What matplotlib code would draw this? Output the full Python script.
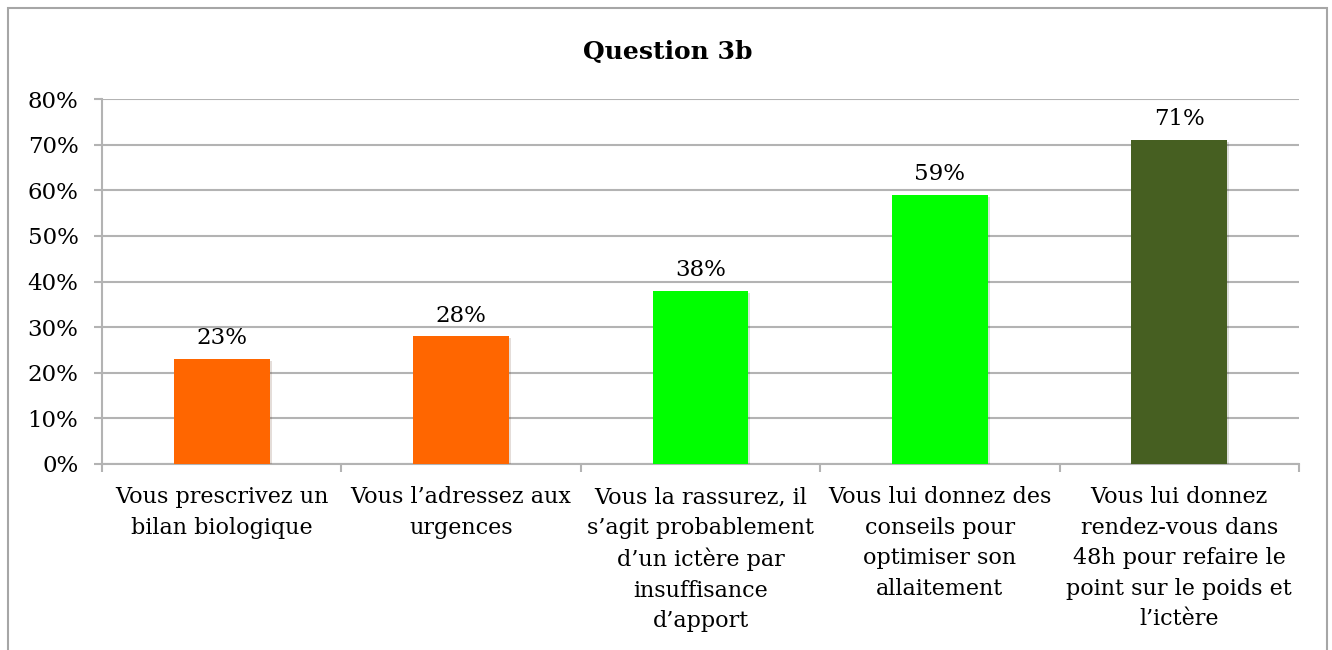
import matplotlib
matplotlib.use("Agg")
import matplotlib.pyplot as plt
import matplotlib.patheffects as pe
from matplotlib.patches import Rectangle
from matplotlib.ticker import FixedLocator, PercentFormatter

# ---------------------------------------------------------------------------
# Data
# ---------------------------------------------------------------------------
TITLE = "Question 3b"
categories = [
    "Vous prescrivez un\nbilan biologique",
    "Vous l\u2019adressez aux\nurgences",
    "Vous la rassurez, il\ns\u2019agit probablement\nd\u2019un ict\u00e8re par\ninsuffisance\nd\u2019apport",
    "Vous lui donnez des\nconseils pour\noptimiser son\nallaitement",
    "Vous lui donnez\nrendez-vous dans\n48h pour refaire le\npoint sur le poids et\nl\u2019ict\u00e8re",
]
values = [0.23, 0.28, 0.38, 0.59, 0.71]
bar_colors = ["#FF6600", "#FF6600", "#00FF00", "#00FF00", "#465F21"]
yticks = [0.0, 0.1, 0.2, 0.3, 0.4, 0.5, 0.6, 0.7, 0.8]

# ---------------------------------------------------------------------------
# Style
# ---------------------------------------------------------------------------
plt.rcParams["font.family"] = ["DejaVu Serif"]
GRID = "#B3B3B3"
FS_X = 16.0
FS_Y = 16.5
FS_VAL = 16.5

fig = plt.figure(figsize=(13.32, 6.5), dpi=100)
ax = fig.add_axes([102 / 1332, 1 - 464 / 650, (1299 - 102) / 1332, (464 - 99) / 650])

x = range(len(values))
bars = ax.bar(x, values, width=0.4, color=bar_colors, zorder=3)
for b in bars:
    b.set_path_effects([pe.SimplePatchShadow(offset=(1.5, -1.5), alpha=0.15), pe.Normal()])

for b, v in zip(bars, values):
    ax.annotate(f"{v * 100:.0f}%", (b.get_x() + b.get_width() / 2, v),
                xytext=(0, 7), textcoords="offset points",
                ha="center", va="bottom", fontsize=FS_VAL)

ax.set_xlim(-0.5, len(values) - 0.5)
ax.set_ylim(0, 0.8)
ax.yaxis.set_major_locator(FixedLocator(yticks))
ax.yaxis.set_major_formatter(PercentFormatter(1.0, decimals=0))
ax.grid(axis="y", color=GRID, linewidth=1.5, zorder=0)
ax.set_axisbelow(True)

ax.set_xticks(list(x))
ax.set_xticklabels(categories, fontsize=FS_X, linespacing=1.5, va="top")
ax.xaxis.set_minor_locator(FixedLocator([i - 0.5 for i in range(len(values) + 1)]))
ax.tick_params(axis="x", which="major", length=0, pad=16)
ax.tick_params(axis="x", which="minor", length=6, width=1.5, color=GRID)
ax.tick_params(axis="y", length=6, width=1.5, color=GRID, labelsize=FS_Y, pad=11)

for s in ["top", "right"]:
    ax.spines[s].set_visible(False)
for s in ["left", "bottom"]:
    ax.spines[s].set_color(GRID)
    ax.spines[s].set_linewidth(1.5)

fig.text(668 / 1332, 1 - 52 / 650, TITLE, ha="center", va="center",
         fontsize=18, fontweight="bold")

# outer chart border (bottom edge lies outside the image)
fig.patches.append(Rectangle((8 / 1332, -0.1), (1327 - 8) / 1332, 1.1 - 8 / 650,
                             transform=fig.transFigure, fill=False,
                             edgecolor="#A6A6A6", linewidth=1.5))

fig.savefig("out.png", dpi=100)
